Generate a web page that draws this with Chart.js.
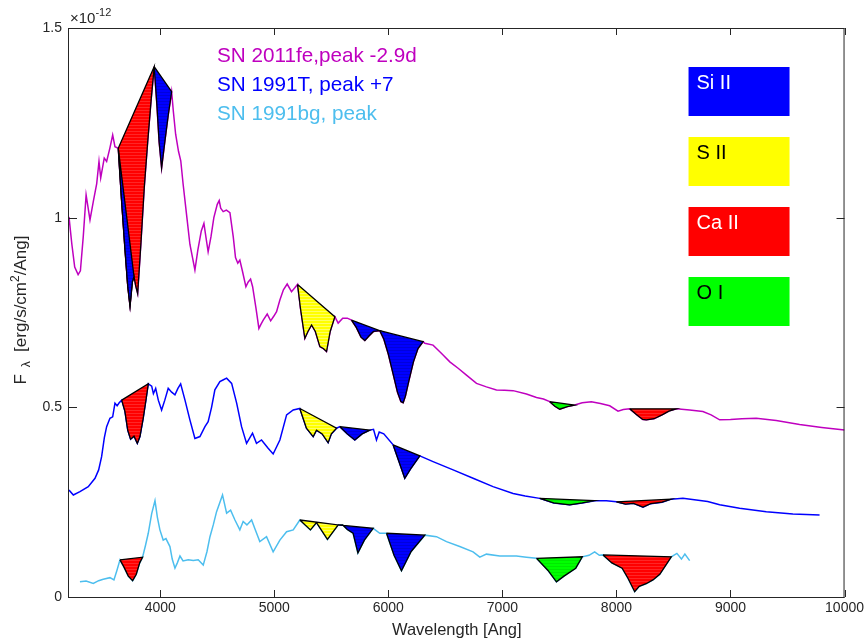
<!DOCTYPE html>
<html>
<head>
<meta charset="utf-8">
<title>SN Ia spectra</title>
<script src="https://cdn.jsdelivr.net/npm/chart.js@4.4.1/dist/chart.umd.min.js"></script>
<style>
  body { margin: 0; background: #fff; }
  canvas { display: block; }
</style>
</head>
<body>
<canvas id="spec" width="867" height="641"></canvas>
<script>
// wavelength in Angstrom, flux in units of 1e-12 erg/s/cm2/Ang
const feWave = [
  3200,3225,3250,3280,3300,3325,3350,3384,3413,3443,
  3463,3478,3509,3530,3559,3583,3603,3632,3660,3690,
  3715,3735,3755,3770,3785,3802,3830,3860,3890,3920,
  3947,3970,3990,4012,4040,4070,4100,4115,4135,4160,
  4180,4200,4230,4260,4304,4330,4360,4383,4400,4420,
  4445,4470,4500,4517,4530,4552,4580,4611,4640,4660,
  4680,4698,4720,4751,4770,4792,4810,4840,4865,4885,
  4903,4938,4968,4995,5020,5049,5080,5113,5151,5180,
  5204,5230,5268,5295,5327,5360,5400,5430,5458,5490,
  5531,5560,5600,5640,5677,5720,5760,5794,5830,5870,
  5925,5960,6000,6040,6080,6110,6130,6150,6180,6220,
  6260,6305,6320,6392,6440,6480,6539,6612,6685,6773,
  6860,6948,7020,7094,7211,7299,7360,7415,7460,7503,
  7570,7634,7700,7780,7860,7941,8014,8060,8116,8180,
  8230,8262,8330,8400,8460,8525,8642,8758,8830,8905,
  9000,9100,9226,9401,9606,9800,10000
];
const feFlux = [
  1.002,0.93,0.87,0.85,0.86,0.95,1.06,0.994,1.042,1.09,
  1.148,1.105,1.157,1.148,1.184,1.218,1.187,1.183,1.05,0.92,
  0.82,0.767,0.83,0.845,0.82,0.80,0.93,1.08,1.2,1.31,
  1.398,1.30,1.2,1.131,1.2,1.27,1.332,1.28,1.22,1.175,
  1.15,1.09,1.01,0.93,0.862,0.915,0.965,0.985,0.95,0.91,
  0.95,1.0,1.035,1.045,1.025,1.016,1.02,1.013,0.95,0.895,
  0.88,0.888,0.86,0.818,0.83,0.838,0.818,0.76,0.708,0.72,
  0.73,0.746,0.728,0.74,0.752,0.783,0.81,0.825,0.805,0.815,
  0.824,0.76,0.682,0.70,0.717,0.70,0.66,0.655,0.647,0.70,
  0.739,0.722,0.735,0.735,0.73,0.71,0.685,0.676,0.688,0.70,
  0.702,0.68,0.64,0.59,0.54,0.515,0.512,0.53,0.57,0.62,
  0.655,0.673,0.669,0.664,0.65,0.638,0.620,0.603,0.585,0.563,
  0.554,0.546,0.545,0.544,0.535,0.526,0.522,0.515,0.503,0.495,
  0.502,0.506,0.512,0.515,0.51,0.504,0.490,0.494,0.496,0.48,
  0.468,0.467,0.47,0.48,0.49,0.496,0.493,0.489,0.48,0.467,
  0.468,0.47,0.471,0.465,0.455,0.447,0.440
];

const tWave = [
  3200,3238,3296,3369,3428,3460,3486,3510,3530,3559,
  3583,3603,3622,3640,3662,3690,3715,3740,3770,3799,
  3822,3850,3875,3895,3925,3940,3960,3983,4012,4040,
  4070,4100,4129,4155,4179,4217,4260,4304,4348,4392,
  4420,4450,4479,4523,4550,4582,4626,4670,4713,4757,
  4809,4844,4888,4946,4990,5049,5108,5166,5224,5282,
  5341,5370,5420,5472,5500,5546,5575,5640,5706,5770,
  5838,5870,5896,5920,5960,6042,6090,6144,6200,6276,
  6392,6568,6743,6918,7094,7200,7327,7450,7590,7700,
  7809,7912,7999,8080,8150,8233,8300,8400,8481,8583,
  8700,8800,8905,9080,9314,9547,9781
];
const tFlux = [
  0.282,0.269,0.278,0.291,0.313,0.335,0.370,0.42,0.449,0.471,
  0.475,0.511,0.504,0.512,0.519,0.49,0.44,0.416,0.424,0.405,
  0.423,0.47,0.52,0.562,0.556,0.536,0.550,0.519,0.493,0.519,
  0.550,0.54,0.533,0.55,0.562,0.519,0.467,0.418,0.423,0.449,
  0.462,0.50,0.546,0.568,0.572,0.577,0.563,0.511,0.449,0.405,
  0.432,0.405,0.414,0.392,0.377,0.414,0.480,0.493,0.497,0.445,
  0.423,0.440,0.43,0.407,0.43,0.445,0.449,0.43,0.414,0.43,
  0.440,0.442,0.414,0.435,0.43,0.401,0.36,0.313,0.34,0.372,
  0.357,0.335,0.313,0.291,0.273,0.266,0.260,0.248,0.243,0.248,
  0.254,0.254,0.251,0.245,0.247,0.237,0.246,0.25,0.258,0.260,
  0.256,0.252,0.243,0.234,0.225,0.219,0.216
];

const bgWave = [
  3296,3350,3413,3460,3500,3559,3594,3620,3647,3680,
  3720,3758,3790,3820,3845,3870,3895,3925,3954,3975,
  3997,4026,4050,4085,4105,4129,4150,4173,4200,4245,
  4290,4333,4377,4410,4436,4465,4494,4546,4582,4617,
  4655,4698,4727,4760,4801,4830,4873,4932,4990,5049,
  5108,5166,5224,5317,5370,5466,5560,5600,5640,5691,
  5733,5790,5867,5925,5984,6050,6115,6200,6320,6422,
  6510,6626,6743,6802,6860,6977,7123,7211,7299,7400,
  7474,7540,7643,7701,7760,7809,7850,7882,7960,8050,
  8100,8160,8200,8260,8320,8380,8481,8530,8570,8600,
  8642
];
const bgFlux = [
  0.040,0.042,0.036,0.043,0.047,0.051,0.045,0.07,0.098,0.08,
  0.055,0.043,0.06,0.09,0.105,0.135,0.168,0.22,0.254,0.21,
  0.177,0.150,0.154,0.133,0.10,0.076,0.09,0.108,0.095,0.098,
  0.096,0.098,0.084,0.12,0.159,0.19,0.225,0.269,0.221,0.229,
  0.203,0.177,0.199,0.19,0.203,0.18,0.146,0.159,0.119,0.150,
  0.172,0.177,0.203,0.177,0.196,0.152,0.190,0.19,0.178,0.168,
  0.116,0.15,0.181,0.168,0.168,0.11,0.069,0.12,0.163,0.159,
  0.146,0.133,0.119,0.105,0.113,0.108,0.108,0.105,0.102,0.07,
  0.040,0.055,0.076,0.106,0.11,0.119,0.11,0.111,0.09,0.076,
  0.05,0.014,0.028,0.035,0.045,0.06,0.106,0.115,0.1,0.113,
  0.096
];

// absorption features: [start, end, ion], drawn in this order
const feFeatures = [[3632,3947,'Ca II'],[3632,3770,'Si II'],[3947,4100,'Si II'],[5204,5531,'S II'],
                    [5677,5925,'Si II'],[5925,6305,'Si II'],[7415,7634,'O I'],[8116,8525,'Ca II']];
const tFeatures  = [[3662,3895,'Ca II'],[5224,5546,'S II'],[5575,5838,'Si II'],[6042,6276,'Si II'],
                    [7327,7809,'O I'],[7999,8481,'Ca II']];
const bgFeatures = [[3647,3845,'Ca II'],[5224,5560,'S II'],[5560,5867,'Si II'],[5984,6320,'Si II'],
                    [7299,7701,'O I'],[7882,8481,'Ca II']];

const names = ['SN 2011fe,peak -2.9d', 'SN 1991T, peak +7', 'SN 1991bg, peak'];
const ions = ['Si II', 'S II', 'Ca II', 'O I'];
const xTicks = [4000, 5000, 6000, 7000, 8000, 9000, 10000];
const yTicks = [0, 0.5, 1, 1.5];

const lineColors = ['#bf00bf', '#0000ff', '#4dbeee'];
const ionColors = { 'Si II': '#0000ff', 'S II': '#ffff00', 'Ca II': '#ff0000', 'O I': '#00ff00' };
const ionStreak = { 'Si II': 'rgba(0,0,90,0.3)', 'S II': 'rgba(255,255,200,0.7)',
                    'Ca II': 'rgba(255,120,120,0.45)', 'O I': 'rgba(0,110,0,0.22)' };
const ionText = { 'Si II': '#ffffff', 'S II': '#000000', 'Ca II': '#ffffff', 'O I': '#000000' };
const FONT = '"Liberation Sans", Arial, Helvetica, sans-serif';
const AXIS = '#262626';

function hatch(ion) {
  var c = document.createElement('canvas');
  c.width = 7; c.height = 3;
  var g = c.getContext('2d');
  g.fillStyle = ionColors[ion];
  g.fillRect(0, 0, 7, 3);
  g.strokeStyle = ionStreak[ion];
  g.lineWidth = 0.7;
  g.beginPath(); g.moveTo(0, 2.5); g.lineTo(7, 2.5); g.stroke();
  return g.createPattern(c, 'repeat');
}

function spectrum(w, f) {
  return w.map(function (x, i) { return { x: x, y: f[i] }; });
}

function polygon(w, f, a, b) {
  var p = [];
  for (var i = 0; i < w.length; i++) {
    if (w[i] >= a && w[i] <= b) p.push({ x: w[i], y: f[i] });
  }
  p.push(p[0]);   // back to the start along the continuum
  return p;
}

var datasets = [];
var layer = 0;
[[feWave, feFlux, feFeatures], [tWave, tFlux, tFeatures], [bgWave, bgFlux, bgFeatures]].forEach(function (s, k) {
  datasets.push({
    label: names[k],
    data: spectrum(s[0], s[1]),
    showLine: true,
    borderColor: lineColors[k],
    borderWidth: 1.5,
    pointRadius: 0,
    fill: false,
    order: 100
  });
  s[2].forEach(function (ft) {
    datasets.push({
      label: ft[2],
      data: polygon(s[0], s[1], ft[0], ft[1]),
      showLine: true,
      borderColor: '#000',
      borderWidth: 1.3,
      backgroundColor: hatch(ft[2]),
      pointRadius: 0,
      fill: 'shape',
      order: 50 - (layer++)
    });
  });
});

const decor = {
  id: 'decor',
  afterDraw: function (chart) {
    var ctx = chart.ctx, a = chart.chartArea;
    var xs = chart.scales.x, ys = chart.scales.y;
    ctx.save();
    // box and inward ticks
    ctx.strokeStyle = AXIS;
    ctx.lineWidth = 1;
    ctx.strokeRect(a.left - 0.5, a.top + 0.5, a.right - a.left, a.bottom - a.top);
    ctx.beginPath();
    xTicks.forEach(function (v) {
      var px = Math.round(xs.getPixelForValue(v)) + 0.5;
      ctx.moveTo(px, a.bottom); ctx.lineTo(px, a.bottom - 7);
      ctx.moveTo(px, a.top); ctx.lineTo(px, a.top + 7);
    });
    yTicks.forEach(function (v) {
      var py = Math.round(ys.getPixelForValue(v)) + 0.5;
      ctx.moveTo(a.left, py); ctx.lineTo(a.left + 8, py);
      ctx.moveTo(a.right, py); ctx.lineTo(a.right - 8, py);
    });
    ctx.stroke();

    // exponent
    ctx.fillStyle = AXIS;
    ctx.textBaseline = 'alphabetic';
    ctx.textAlign = 'left';
    ctx.font = '15px ' + FONT;
    ctx.fillText('\u00d710', a.left + 1, a.top - 5);
    var w10 = ctx.measureText('\u00d710').width;
    ctx.font = '11px ' + FONT;
    ctx.fillText('-12', a.left + 1 + w10, a.top - 12);

    // y title with subscript and superscript
    ctx.save();
    ctx.translate(21, 310);
    ctx.rotate(-Math.PI / 2);
    var parts = [['F', 17, 0], ['  \u03bb', 12, 4], ['  [erg/s/cm', 17, 0], ['2', 12, -7], ['/Ang]', 17, 0]];
    var total = 0;
    parts.forEach(function (p) { ctx.font = p[1] + 'px ' + FONT; total += ctx.measureText(p[0]).width; });
    var x = -total / 2;
    parts.forEach(function (p) {
      ctx.font = p[1] + 'px ' + FONT;
      ctx.fillText(p[0], x, 5 + p[2]);
      x += ctx.measureText(p[0]).width;
    });
    ctx.restore();

    // spectrum names
    ctx.font = '20.7px ' + FONT;
    names.forEach(function (n, i) {
      ctx.fillStyle = lineColors[i];
      ctx.fillText(n, a.left + 148, a.top + 34 + i * 29);
    });

    // ion key boxes
    ctx.font = '20px ' + FONT;
    ions.forEach(function (ion, i) {
      var bx = a.right - 156, by = a.top + 39 + i * 70;
      ctx.fillStyle = ionColors[ion];
      ctx.fillRect(bx, by, 101, 49);
      ctx.fillStyle = ionText[ion];
      ctx.fillText(ion, bx + 8, by + 22);
    });
    ctx.restore();
  }
};

Chart.defaults.font.family = FONT;
Chart.defaults.color = AXIS;

new Chart(document.getElementById('spec'), {
  type: 'scatter',
  data: { datasets: datasets },
  options: {
    responsive: false,
    animation: false,
    layout: { padding: { left: 0, right: 22, top: 28, bottom: 0 } },
    plugins: { legend: { display: false }, tooltip: { enabled: false } },
    scales: {
      x: {
        type: 'linear',
        min: 3200,
        max: 10000,
        afterBuildTicks: function (s) { s.ticks = xTicks.map(function (v) { return { value: v }; }); },
        afterFit: function (s) { s.height = 44; },
        ticks: { font: { size: 14 }, color: AXIS, padding: 3, maxRotation: 0, autoSkip: false,
                 callback: function (v) { return String(v); } },
        grid: { display: false, drawTicks: false },
        border: { display: false },
        title: { display: true, text: 'Wavelength [Ang]', font: { size: 16.5 }, color: AXIS, padding: { top: 0, bottom: 1 } }
      },
      y: {
        type: 'linear',
        min: 0,
        max: 1.5,
        afterBuildTicks: function (s) { s.ticks = yTicks.map(function (v) { return { value: v }; }); },
        afterFit: function (s) { s.width = 69; },
        ticks: { font: { size: 14 }, color: AXIS, padding: 7, callback: function (v) { return String(v); } },
        grid: { display: false, drawTicks: false },
        border: { display: false }
      }
    }
  },
  plugins: [decor]
});
</script>
</body>
</html>
